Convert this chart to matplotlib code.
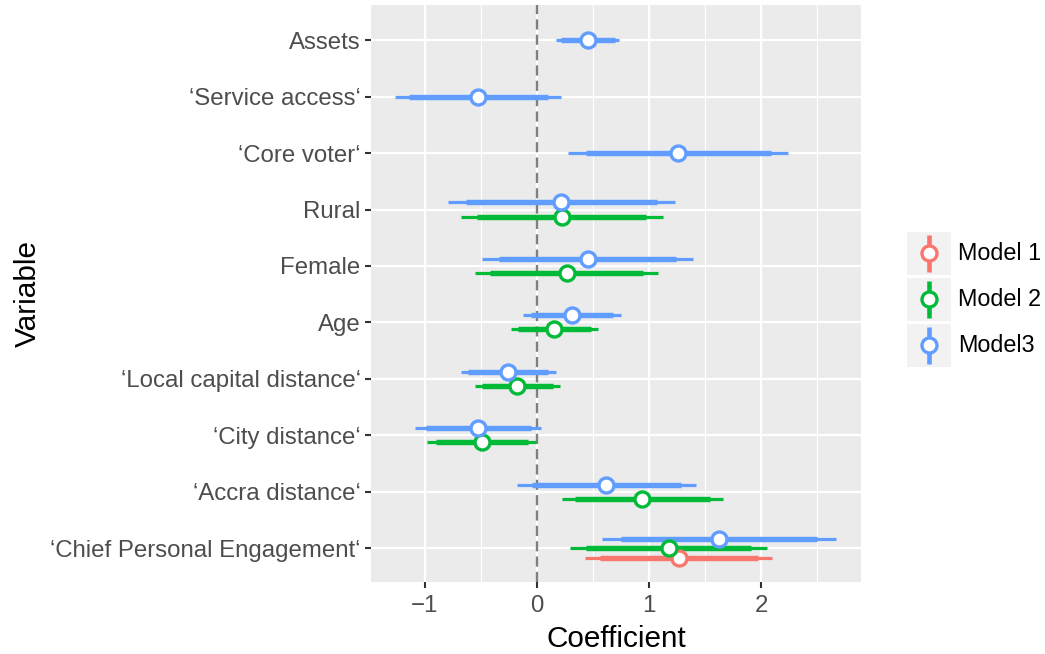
import numpy as np
import matplotlib
matplotlib.use("Agg")
import matplotlib.pyplot as plt
from matplotlib.lines import Line2D
from matplotlib.patches import Rectangle

plt.rcParams['font.family'] = ['Liberation Sans', 'DejaVu Sans']

# variables, bottom to top
variables = ["‘Chief Personal Engagement‘", "‘Accra distance‘", "‘City distance‘",
             "‘Local capital distance‘", "Age", "Female", "Rural",
             "‘Core voter‘", "‘Service access‘", "Assets"]

models = ["Model 1", "Model 2", "Model3"]
colors = ["#F8766D", "#00BA38", "#619CFF"]

# estimates per model (nan = variable not in model), same order as variables
m1_est = [1.268, np.nan, np.nan, np.nan, np.nan, np.nan, np.nan, np.nan, np.nan, np.nan]
m1_lo95 = [0.431, np.nan, np.nan, np.nan, np.nan, np.nan, np.nan, np.nan, np.nan, np.nan]
m1_hi95 = [2.100, np.nan, np.nan, np.nan, np.nan, np.nan, np.nan, np.nan, np.nan, np.nan]
m1_lo90 = [0.560, np.nan, np.nan, np.nan, np.nan, np.nan, np.nan, np.nan, np.nan, np.nan]
m1_hi90 = [1.968, np.nan, np.nan, np.nan, np.nan, np.nan, np.nan, np.nan, np.nan, np.nan]

m2_est = [1.174, 0.941, -0.493, -0.174, 0.150, 0.265, 0.224, np.nan, np.nan, np.nan]
m2_lo95 = [0.298, 0.227, -0.979, -0.552, -0.230, -0.549, -0.676, np.nan, np.nan, np.nan]
m2_hi95 = [2.050, 1.658, -0.006, 0.206, 0.540, 1.077, 1.121, np.nan, np.nan, np.nan]
m2_lo90 = [0.437, 0.339, -0.903, -0.493, -0.168, -0.419, -0.531, np.nan, np.nan, np.nan]
m2_hi90 = [1.909, 1.543, -0.083, 0.145, 0.478, 0.944, 0.973, np.nan, np.nan, np.nan]

m3_est = [1.622, 0.619, -0.525, -0.257, 0.313, 0.451, 0.215, 1.260, -0.525, 0.451]
m3_lo95 = [0.578, -0.174, -1.083, -0.678, -0.124, -0.490, -0.796, 0.277, -1.263, 0.168]
m3_hi95 = [2.670, 1.416, 0.035, 0.168, 0.752, 1.389, 1.233, 2.242, 0.215, 0.732]
m3_lo90 = [0.746, -0.047, -0.988, -0.611, -0.053, -0.336, -0.631, 0.434, -1.145, 0.212]
m3_hi90 = [2.501, 1.286, -0.050, 0.097, 0.681, 1.239, 1.068, 2.083, 0.094, 0.693]

est = [m1_est, m2_est, m3_est]
lo95 = [m1_lo95, m2_lo95, m3_lo95]
hi95 = [m1_hi95, m2_hi95, m3_hi95]
lo90 = [m1_lo90, m2_lo90, m3_lo90]
hi90 = [m1_hi90, m2_hi90, m3_hi90]

fig = plt.figure(figsize=(10.45, 6.54), dpi=100)
ax = fig.add_axes([0.355, 0.110, 0.469, 0.882])
ax.set_facecolor("#EBEBEB")

xmin, xmax = -1.48, 2.89
ax.set_xlim(xmin, xmax)
ax.set_ylim(-0.6, 9.62)

# grid
for x in [-0.5, 0.5, 1.5, 2.5]:
    ax.axvline(x, color="white", lw=0.8, zorder=0)
for x in [-1, 0, 1, 2]:
    ax.axvline(x, color="white", lw=1.6, zorder=0)
for y in range(len(variables)):
    ax.axhline(y, color="white", lw=1.6, zorder=0)

ax.axvline(0, color="#7F7F7F", lw=1.7, ls=(0, (4.3, 2.2)), zorder=1)

# dodge
width = 0.5
for vi in range(len(variables)):
    present = [m for m in range(len(models)) if not np.isnan(est[m][vi])]
    n = len(present)
    for k, m in enumerate(present):
        y = vi + (k - (n - 1) / 2) * width / n
        ax.plot([lo95[m][vi], hi95[m][vi]], [y, y], color=colors[m], lw=2.3,
                solid_capstyle="butt", zorder=2)
        ax.plot([lo90[m][vi], hi90[m][vi]], [y, y], color=colors[m], lw=3.9,
                solid_capstyle="butt", zorder=2)
        ax.plot(est[m][vi], y, "o", ms=10.8, mfc="white", mec=colors[m],
                mew=2.4, zorder=3)

ax.set_yticks(range(len(variables)))
ax.set_yticklabels(variables)
ax.set_xticks([-1, 0, 1, 2])
ax.set_xticklabels(["\u22121", "0", "1", "2"])
ax.tick_params(axis="both", labelsize=17.3, labelcolor="#4D4D4D", color="#333333",
               length=4, width=1.5, pad=3.5)
ax.tick_params(axis="x", pad=5)
for s in ax.spines.values():
    s.set_visible(False)

ax.set_xlabel("Coefficient", fontsize=21.4, labelpad=6)
ax.set_ylabel("Variable", fontsize=21.4)
ax.yaxis.set_label_coords(-0.672, 0.5)

# legend drawn in figure pixel coords
W, H = 1045, 654
def fx(px):
    return px / W
def fy(py):
    return 1 - py / H

key_tops = [231.7, 277.7, 323.7]
for m, top in enumerate(key_tops):
    fig.patches.append(Rectangle((fx(907.3), fy(top + 43.3)), 43.4 / W, 43.3 / H,
                                 transform=fig.transFigure, facecolor="#F2F2F2",
                                 edgecolor="none"))
    cx = fx(929)
    fig.lines.append(Line2D([cx, cx], [fy(top + 3.5), fy(top + 39.8)],
                            transform=fig.transFigure, color=colors[m], lw=3.3,
                            solid_capstyle="butt"))
    fig.lines.append(Line2D([cx], [fy(top + 21.6)], transform=fig.transFigure,
                            marker="o", ms=10.8, mfc="white", mec=colors[m], mew=2.4))
    fig.text(fx(958), fy(top + 21.6), models[m], fontsize=16.8, va="center",
             ha="left", color="black")

fig.savefig("out.png", dpi=100)
